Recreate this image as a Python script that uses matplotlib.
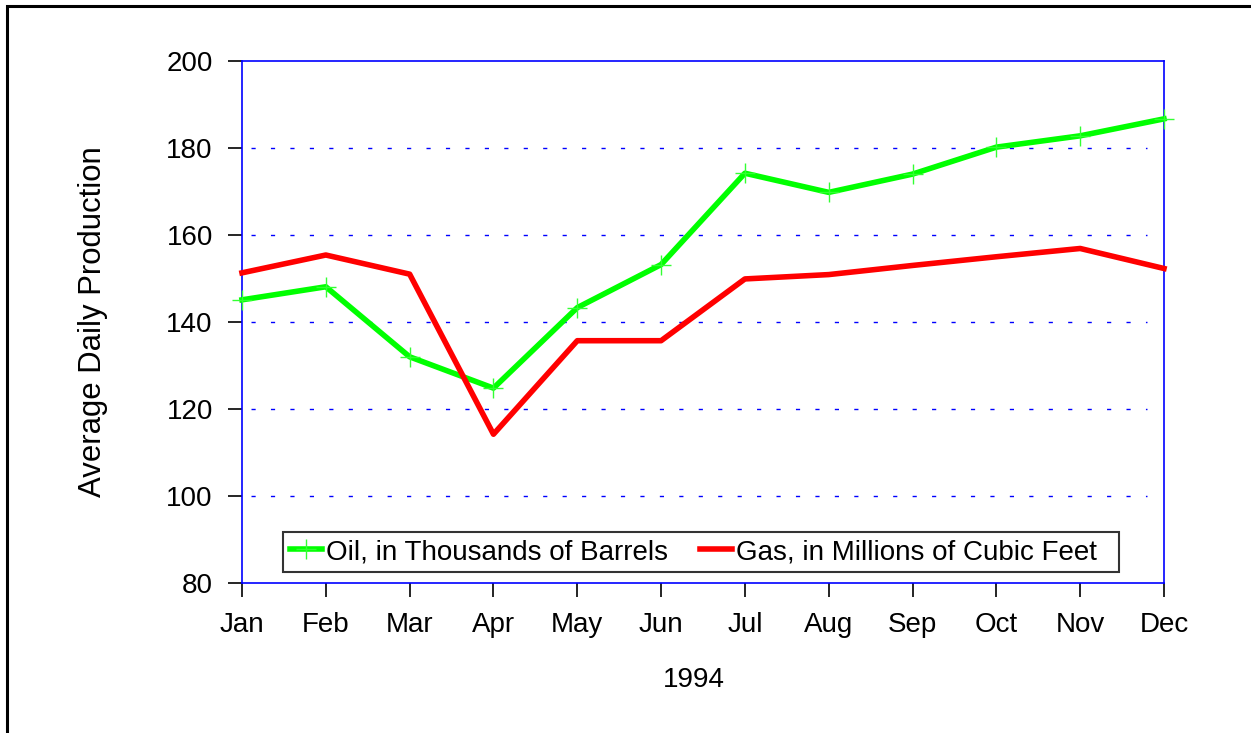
"""Average daily oil and gas production, 1994."""

import matplotlib
matplotlib.use("Agg")
import matplotlib.pyplot as plt
from matplotlib.patches import Rectangle

months = ["Jan", "Feb", "Mar", "Apr", "May", "Jun",
          "Jul", "Aug", "Sep", "Oct", "Nov", "Dec"]
oil = [145.1, 148.1, 132.0, 124.8, 143.3, 153.2,
       174.2, 169.8, 174.0, 180.2, 182.8, 186.7]
gas = [151.3, 155.4, 151.0, 114.2, 135.7, 135.7,
       149.9, 150.9, 153.0, 155.0, 156.9, 152.3]
yticks = [80, 100, 120, 140, 160, 180, 200]

plt.rcParams["font.family"] = ["Liberation Sans", "DejaVu Sans"]
plt.rcParams["lines.scale_dashes"] = False

W, H = 1251, 733
fig = plt.figure(figsize=(W / 100, H / 100), dpi=100)
ax = fig.add_axes([242 / W, (H - 583) / H, 922 / W, 522 / H])

# outer frame (left and top edges visible, rest runs off the image)
fig.patches.append(Rectangle((7 / W, -0.2), 1.5, 1.2 - 6 / H,
                             transform=fig.transFigure, fill=False,
                             edgecolor="black", linewidth=2.2,
                             clip_on=False))

x = list(range(len(months)))
for y in yticks[1:-1]:
    ax.axhline(y, xmin=0.01, xmax=0.982, color="#0000ff", linewidth=1.0,
               linestyle=(0, (3, 11)), zorder=1)

ax.plot(x, oil, color="#00ff00", linewidth=4, marker="+", markersize=15,
        markeredgewidth=1.0, markeredgecolor="#33ff33",
        label="Oil, in Thousands of Barrels", zorder=3, clip_on=False)
ax.plot(x, gas, color="#ff0000", linewidth=4,
        label="Gas, in Millions of Cubic Feet  ", zorder=3, clip_on=False)

ax.set_xlim(0, len(months) - 1)
ax.set_ylim(80, 200)
ax.set_xticks(x, months)
ax.set_yticks(yticks)
ax.tick_params(axis="both", direction="out", length=10, width=1.2,
               colors="black", labelsize=20, pad=11)
for sp in ax.spines.values():
    sp.set_color("#0000ff")
    sp.set_linewidth(1.2)

ax.set_xlabel("1994", fontsize=20, va="center")
ax.xaxis.set_label_coords(0.49, -(680 - 583) / 522)
ax.set_ylabel("Average Daily Production", fontsize=22.4, va="center")
ax.yaxis.set_label_coords(-(242 - 93) / 922, 0.5)

leg = ax.legend(loc="lower left", bbox_to_anchor=(0.0445, 0.021), ncol=2,
                fontsize=20, frameon=True, fancybox=False, borderpad=0.25,
                handlelength=1.15, handletextpad=0.15, columnspacing=1.15,
                borderaxespad=0)
leg.get_frame().set_edgecolor("black")
leg.get_frame().set_linewidth(1.5)

fig.savefig("out.png", dpi=100)
